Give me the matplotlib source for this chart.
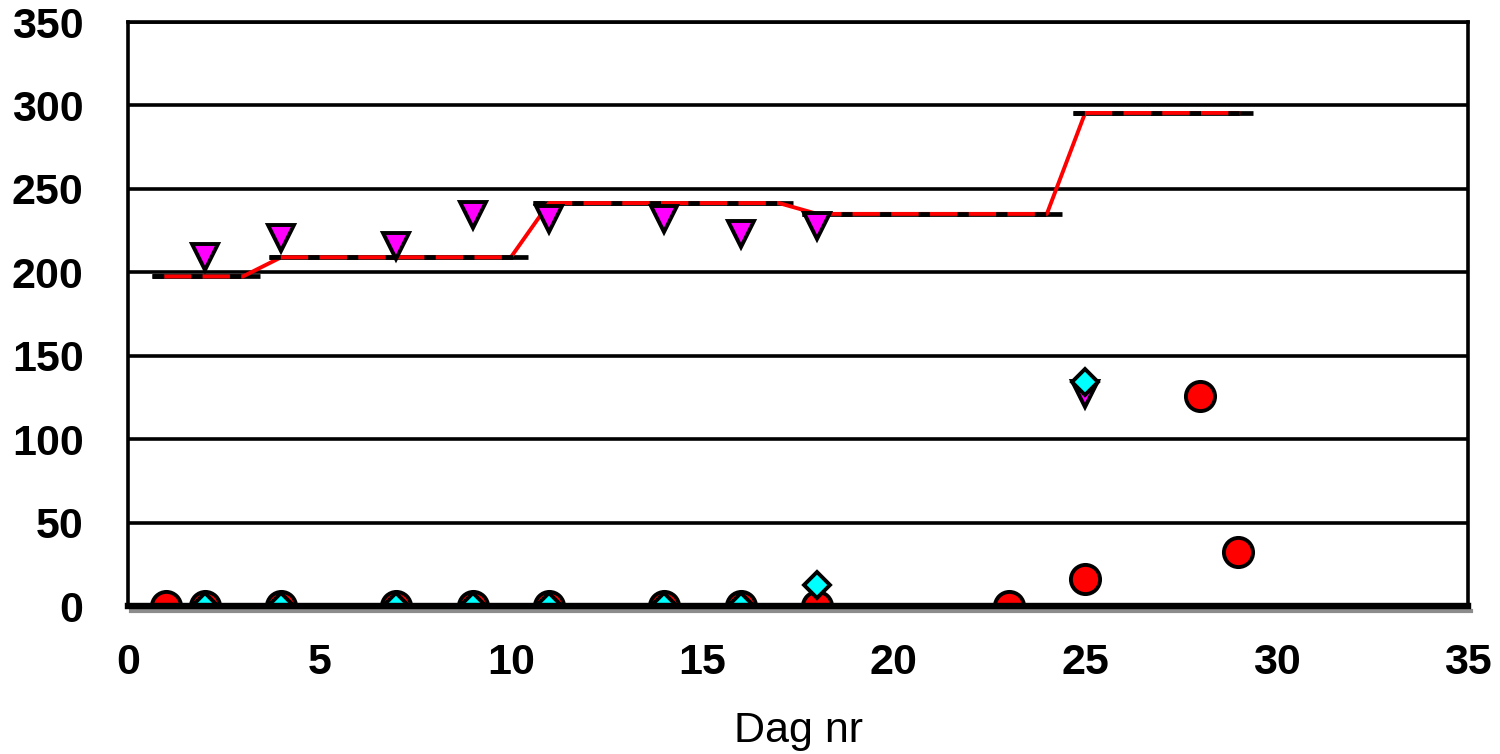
import numpy as np
import matplotlib
matplotlib.use('Agg')
import matplotlib.pyplot as plt
from matplotlib.transforms import offset_copy

# red circles
circle_day = [1, 2, 4, 7, 9, 11, 14, 16, 18, 23, 25, 28, 29]
circle_val = [0, 0, 0, 0, 0, 0, 0, 0, 0, 0, 16, 126, 32.5]

# magenta triangles
tri_day = [2, 4, 7, 9, 11, 14, 16, 18, 25]
tri_val = [209, 220.5, 215.5, 234.5, 232, 232, 223, 227.5, 127]

# cyan diamonds
dia_day = [2, 4, 7, 9, 11, 14, 16, 18, 25]
dia_val = [0, 0, 0, 0, 0, 0, 0, 12.6, 134]

# black level segments
seg_start = [0.63, 3.67, 10.58, 17.6, 24.67]
seg_end = [3.45, 10.45, 17.37, 24.4, 29.38]
seg_val = [197.5, 209, 241.5, 235, 295.5]

# red step line
step_day = [1, 3, 4, 10, 11, 17, 18, 24, 25, 29]
step_val = [197.5, 197.5, 209, 209, 241.5, 241.5, 235, 235, 295.5, 295.5]

x_ticks = np.arange(0, 36, 5)
y_ticks = np.arange(0, 351, 50)

fig = plt.figure(figsize=(15, 7.54), dpi=100)
ax = fig.add_axes([128 / 1500, 1 - 606 / 754, 1340 / 1500, 584 / 754])

# level segments: solid black underlay, red line, black dashes on top
for s, e, v in zip(seg_start, seg_end, seg_val):
    ax.plot([s, e], [v, v], color='black', lw=3.4, solid_capstyle='butt', zorder=2)
ax.plot(step_day, step_val, color='#ff0000', lw=2.8, zorder=2.1)
for s, e, v in zip(seg_start, seg_end, seg_val):
    ax.plot([s, e], [v, v], color='black', lw=3.4, linestyle=(0, (2.4, 5.8)),
            dash_capstyle='butt', zorder=2.2)

ax.plot(circle_day, circle_val, 'o', ms=21, mfc='#ff0000', mec='black', mew=2.8, zorder=3)
ax.plot(tri_day, tri_val, 'v', ms=19, mfc='#ff00ff', mec='black', mew=2.8, zorder=3.1)
ax.plot(dia_day, dia_val, 'D', ms=13.5, mfc='#00ffff', mec='black', mew=2.8, zorder=3.2)

ax.set_xlim(0, 35)
ax.set_ylim(0, 350)
ax.set_xticks(x_ticks)
ax.set_yticks(y_ticks)
ax.yaxis.grid(True, color='black', lw=2.6)
ax.set_axisbelow(True)

for side in ['left', 'right', 'top']:
    ax.spines[side].set_linewidth(2.6)
ax.spines['bottom'].set_linewidth(4.6)
ax.spines['bottom'].set_zorder(5)

# grey shadow under the x axis
shadow = offset_copy(ax.transData, fig=fig, x=3, y=-5, units='dots')
ax.plot([0, 35], [0, 0], color='#8c8c8c', lw=3, transform=shadow, clip_on=False, zorder=4)

ax.tick_params(length=0, labelsize=31)
ax.tick_params(axis='y', pad=32)
ax.tick_params(axis='x', pad=27)
for lbl in ax.get_xticklabels() + ax.get_yticklabels():
    lbl.set_fontfamily('Liberation Sans')
    lbl.set_fontweight('bold')

ax.set_xlabel('Dag nr', fontsize=31, fontfamily='Liberation Sans', labelpad=20)

fig.savefig('out.png', dpi=100)
